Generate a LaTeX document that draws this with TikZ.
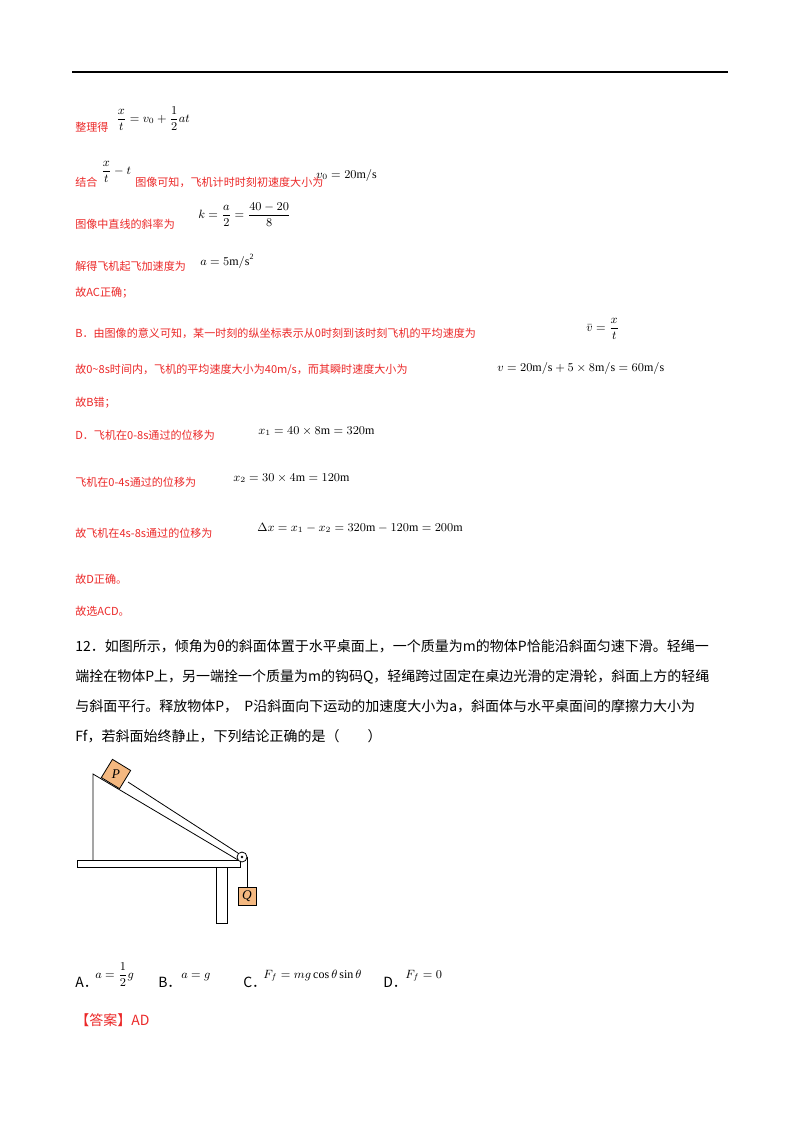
\documentclass[tikz,border=0pt]{standalone}
\usepackage{amsmath}
\usepackage{fontspec}
\setmainfont{Liberation Serif}
\newfontfamily\cjk{Noto Sans CJK SC}
\definecolor{rd}{RGB}{235,40,40}
\definecolor{og}{RGB}{244,184,128}
\begin{document}
\begin{tikzpicture}[x=0.75pt,y=-0.75pt,
 t/.style={anchor=base west,inner sep=0,font=\cjk\fontsize{10.5}{12}\selectfont},
 r/.style={anchor=base west,inner sep=0,text=rd,font=\cjk\fontsize{8.3}{10}\selectfont},
 m/.style={anchor=base west,inner sep=0,font=\fontsize{9}{11}\selectfont},
 ln/.style={line width=0.6pt}]
\useasboundingbox (0,0) rectangle (800,1132);
\draw[line width=1.6pt] (72,72) -- (728,72);
\node[r] (l1) at (75,131) {整理得};
\node[m] (f1) at (116,122) {$\dfrac{x}{t}=v_0+\dfrac{1}{2}at$};
\node[r] (l2) at (75,186) {结合};
\node[m] (f2) at (101,174) {$\dfrac{x}{t}-t$};
\node[r] (l2b) at (135,186) {图像可知，飞机计时时刻初速度大小为};
\node[m] (f2b) at (316,178) {$v_0=20\mathrm{m/s}$};
\node[r] (l3) at (75,228) {图像中直线的斜率为};
\node[m] (f3) at (198,218) {$k=\dfrac{a}{2}=\dfrac{40-20}{8}$};
\node[r] (l4) at (75,270) {解得飞机起飞加速度为};
\node[m] (f4) at (200,265) {$a=5\mathrm{m/s^2}$};
\node[r] (l5) at (75,296) {故AC正确；};
\node[r] (l6) at (75,337) {B．由图像的意义可知，某一时刻的纵坐标表示从0时刻到该时刻飞机的平均速度为};
\node[m] (f6) at (586,331) {$\bar v=\dfrac{x}{t}$};
\node[r] (l7) at (75,373) {故0\~{}8s时间内，飞机的平均速度大小为40m/s，而其瞬时速度大小为};
\node[m] (f7) at (497,371) {$v=20\mathrm{m/s}+5\times8\mathrm{m/s}=60\mathrm{m/s}$};
\node[r] (l8) at (75,406) {故B错；};
\node[r] (l9) at (75,439) {D．飞机在0-8s通过的位移为};
\node[m] (f9) at (258,434) {$x_1=40\times8\mathrm{m}=320\mathrm{m}$};
\node[r] (l10) at (75,486) {飞机在0-4s通过的位移为};
\node[m] (f10) at (233,481) {$x_2=30\times4\mathrm{m}=120\mathrm{m}$};
\node[r] (l11) at (75,537) {故飞机在4s-8s通过的位移为};
\node[m] (f11) at (257,531) {$\Delta x=x_1-x_2=320\mathrm{m}-120\mathrm{m}=200\mathrm{m}$};
\node[r] (l12) at (75,583) {故D正确。};
\node[r] (l13) at (75,615) {故选ACD。};
\node[t] (p1) at (75,651) {12．如图所示，倾角为θ的斜面体置于水平桌面上，一个质量为m的物体P恰能沿斜面匀速下滑。轻绳一};
\node[t] (p2) at (75,681) {端拴在物体P上，另一端拴一个质量为m的钩码Q，轻绳跨过固定在桌边光滑的定滑轮，斜面上方的轻绳};
\node[t] (p3) at (75,711) {与斜面平行。释放物体P，\ \ P沿斜面向下运动的加速度大小为a，斜面体与水平桌面间的摩擦力大小为};
\node[t] (p4) at (75,741) {Ff，若斜面始终静止，下列结论正确的是（\qquad ）};
% figure
\coordinate (wt) at (93,774);
\coordinate (wb) at (93,860);
\coordinate (wr) at (238,860);
\draw[ln] (wb) -- (wt) -- (wr);
\draw[ln,fill=white] (77,860) rectangle (240,867);
\draw[ln,fill=white] (216,867) rectangle (227,923);
\node[draw,ln,circle,fill=white,minimum size=7.5pt,inner sep=0] (pul) at (242,857) {};
\fill (pul.center) circle (1pt);
\draw[ln] (128,782) -- (pul.north west);
\node[draw,ln,fill=og,minimum size=16pt,inner sep=0,rotate=-31.4,font=\itshape\fontsize{10}{12}\selectfont] (P) at (116,774) {\rotatebox{31.4}{P}};
\node[draw,ln,fill=og,minimum width=13.5pt,minimum height=13.5pt,inner sep=0,font=\itshape\fontsize{10}{12}\selectfont] (Q) at (247,896) {Q};
\draw[ln] (pul.east) -- (Q.north -| pul.east);
% options
\node[t] (oa) at (75,987) {A．};
\node[m] (fa) at (95,978) {$a=\dfrac{1}{2}g$};
\node[t] (ob) at (158,987) {B．};
\node[m] (fb) at (181,978) {$a=g$};
\node[t] (oc) at (243,987) {C．};
\node[m] (fc) at (263,978) {$F_f=mg\cos\theta\sin\theta$};
\node[t] (od) at (383,987) {D．};
\node[m] (fd) at (405,978) {$F_f=0$};
\node[r,font=\cjk\fontsize{10.5}{12}\selectfont] (ans) at (75,1025) {【答案】AD};
\end{tikzpicture}
\end{document}
